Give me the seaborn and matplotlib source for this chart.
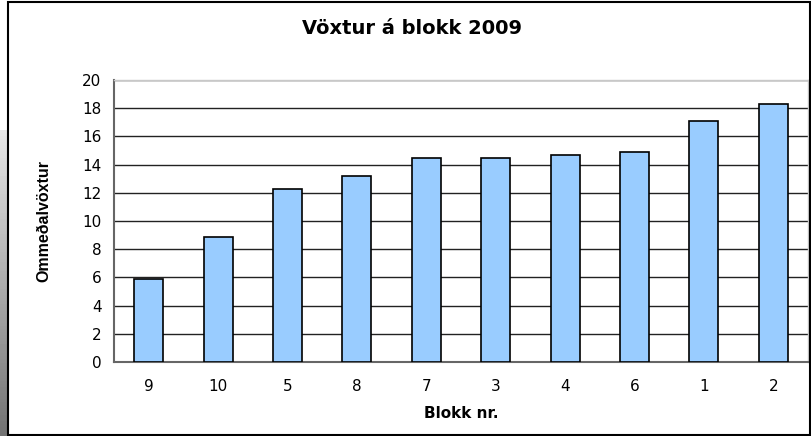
import numpy as np
import pandas as pd
import matplotlib.pyplot as plt
import seaborn as sns

# gögn
blokk = ['9', '10', '5', '8', '7', '3', '4', '6', '1', '2']
voxtur = [5.9, 8.9, 12.3, 13.2, 14.5, 14.5, 14.7, 14.9, 17.1, 18.3]

df = pd.DataFrame({'blokk': blokk, 'voxtur': voxtur})

sns.set_style('white')
plt.rcParams['font.family'] = ['DejaVu Sans']
plt.rcParams['text.color'] = 'black'
plt.rcParams['xtick.color'] = 'black'
plt.rcParams['ytick.color'] = 'black'
plt.rcParams['axes.labelcolor'] = 'black'

fig = plt.figure(figsize=(8.11, 4.36), dpi=100)
ax = fig.add_axes([114/811, 1 - 362/436, (808-114)/811, (362-80)/436])

sns.barplot(data=df, x='blokk', y='voxtur', color='#99CCFF', edgecolor='black',
            linewidth=1.2, width=0.42, saturation=1, ax=ax, zorder=3)

ax.set_ylim(0, 20)
ax.set_xlim(-0.5, len(blokk) - 0.5)
ax.set_yticks(np.arange(0, 21, 2))
ax.yaxis.grid(True, color='#222222', linewidth=1.0, zorder=0)
ax.set_axisbelow(True)

# strik á milli flokka á x-ás
ax.set_xticks(np.arange(len(blokk)))
ax.set_xticks(np.arange(-0.5, len(blokk)), minor=True)
ax.tick_params(axis='x', which='major', length=0, pad=12, labelsize=11)
ax.tick_params(axis='x', which='minor', length=5, width=1, color='#555555', direction='out')
ax.tick_params(axis='y', length=5, width=1, color='#555555', direction='out', labelsize=11, pad=4)

for s in ['left', 'bottom']:
    ax.spines[s].set_color('#666666')
    ax.spines[s].set_linewidth(1.5)
for s in ['top', 'right']:
    ax.spines[s].set_color('#c8c8c8')
    ax.spines[s].set_linewidth(1.0)

ax.set_xlabel('Blokk nr.', fontsize=11, fontweight='bold', labelpad=9)
ax.set_ylabel('Ommeðalvöxtur', fontsize=11.5, fontweight='bold', labelpad=22,
              family=['Liberation Sans Narrow', 'Liberation Sans'])
fig.text(412/811, 1 - 29/436, 'Vöxtur á blokk 2009', ha='center', va='center',
         fontsize=14, fontweight='bold')

# rammi og grár skuggi vinstra megin
grad = np.linspace(0.9, 0.45, 100).reshape(-1, 1)
gax = fig.add_axes([0, 0, 8/811, 1 - 130/436])
gax.imshow(grad, cmap='gray', aspect='auto', vmin=0, vmax=1)
gax.axis('off')
fig.patches.append(plt.Rectangle((8/811, 0.002), 1 - 9/811, 0.994, transform=fig.transFigure,
                                 fill=False, edgecolor='black', linewidth=1.5))

fig.savefig('out.png', dpi=100)
